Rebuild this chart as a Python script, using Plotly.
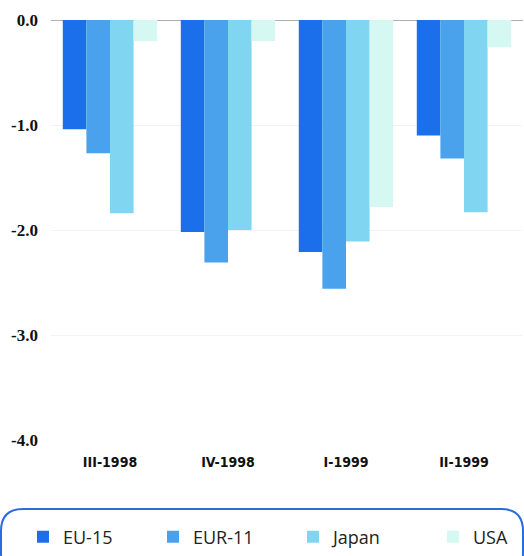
import plotly.graph_objects as go

categories = ["III-1998", "IV-1998", "I-1999", "II-1999"]
eu15 = [-1.04, -2.02, -2.21, -1.10]
eur11 = [-1.27, -2.31, -2.56, -1.32]
japan = [-1.84, -2.00, -2.11, -1.83]
usa = [-0.20, -0.20, -1.78, -0.26]
series_names = ["EU-15", "EUR-11", "Japan", "USA"]
colors = ["#1c6fea", "#4aa2ec", "#80d6f1", "#d6f8f3"]
y_ticks = [0, -1, -2, -3, -4]
y_tick_labels = ["0.0", "-1.0", "-2.0", "-3.0", "-4.0"]

W, H = 524, 556
L, R, T, B = 51, 1, 20, 116
pw, ph = W - L - R, H - T - B
legend_x = [23, 153, 293, 433]
legend_ids = ["legend", "legend2", "legend3", "legend4"]

fig = go.Figure()
for name, vals, c, lid in zip(series_names, [eu15, eur11, japan, usa], colors, legend_ids):
    fig.add_trace(go.Bar(x=categories, y=vals, name=name, legend=lid,
                         marker=dict(color=c, line=dict(width=0))))

def px2paper(x, y):
    return (x - L) / pw, (H - B - y) / ph

x0, x1, y0, y1, r = 1, 523, 509, 575, 22
def P(x, y):
    a, b = px2paper(x, y)
    return f"{a:.5f},{b:.5f}"
path = (f"M {P(x0 + r, y0)} L {P(x1 - r, y0)} Q {P(x1, y0)} {P(x1, y0 + r)} "
        f"L {P(x1, y1 - r)} Q {P(x1, y1)} {P(x1 - r, y1)} L {P(x0 + r, y1)} "
        f"Q {P(x0, y1)} {P(x0, y1 - r)} L {P(x0, y0 + r)} Q {P(x0, y0)} {P(x0 + r, y0)} Z")
fig.add_shape(type="path", path=path, xref="paper", yref="paper",
              line=dict(color="#2a6be0", width=2), fillcolor="rgba(0,0,0,0)", layer="below")

legend_common = dict(orientation="h", xref="container", yref="container",
                     y=1 - 537 / H, xanchor="left", yanchor="middle",
                     font=dict(family="Open Sans", size=18, color="#222"),
                     bgcolor="rgba(0,0,0,0)")
legends = {lid: dict(x=lx / W, **legend_common) for lid, lx in zip(legend_ids, legend_x)}

fig.update_layout(
    width=W, height=H,
    margin=dict(l=L, r=R, t=T, b=B),
    paper_bgcolor="white", plot_bgcolor="white",
    barmode="group", bargap=0.2, bargroupgap=0,
    showlegend=True,
    **legends,
    xaxis=dict(showgrid=False, showline=False, ticks="", ticklabelstandoff=12,
               tickfont=dict(family="DejaVu Sans Condensed", size=14, color="#111", weight="bold"),
               fixedrange=True),
    yaxis=dict(range=[-4, 0], tickvals=y_ticks, ticktext=y_tick_labels,
               showgrid=True, gridcolor="#f3f3f3", zeroline=True, zerolinecolor="#b0b0b0",
               zerolinewidth=1, ticks="", ticklabelstandoff=12,
               tickfont=dict(family="Liberation Serif", size=17, color="#111", weight="bold")),
    font=dict(family="DejaVu Sans"),
)
fig.write_html("out.html")
